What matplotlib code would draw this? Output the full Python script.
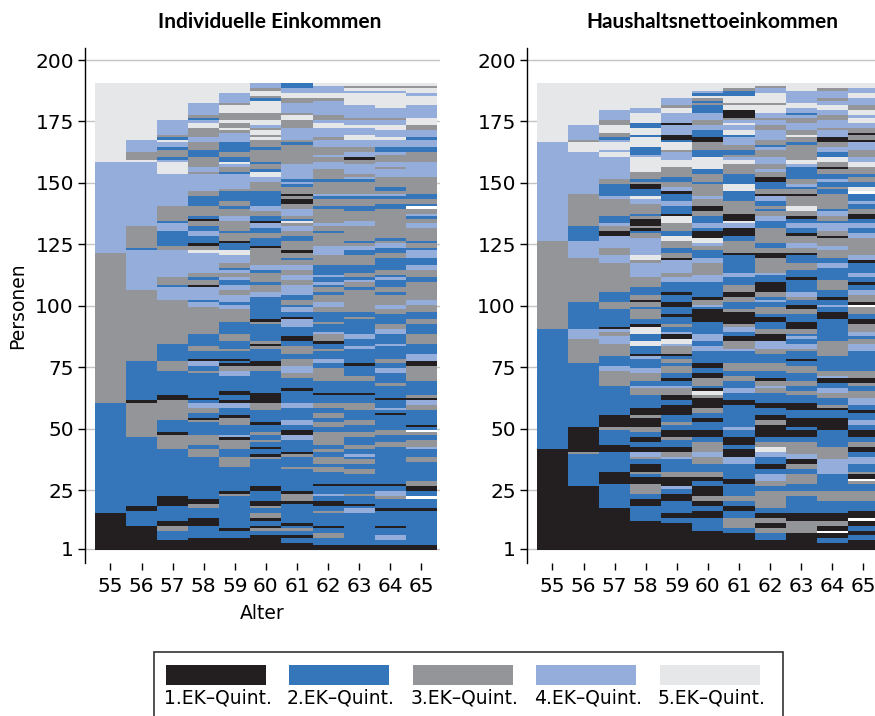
import matplotlib
matplotlib.use("Agg")
import matplotlib.pyplot as plt
from matplotlib.patches import Rectangle

ages = list(range(55, 66))
yticks = [1, 25, 50, 75, 100, 125, 150, 175, 200]
quint_labels = ["1.EK–Quint.", "2.EK–Quint.", "3.EK–Quint.", "4.EK–Quint.", "5.EK–Quint."]
quint_colors = {0: "#ffffff", 1: "#231f20", 2: "#3576bb", 3: "#939598",
                4: "#95addb", 5: "#e6e7e8"}

# one string per age (55..65); "state:last person" from bottom to top, 0 = fehlend
individuell = [
    "1:15 2:60 3:121 4:158 5:190",
    "1:10 2:16 1:18 2:46 3:60 1:61 2:77 3:106 4:122 2:123 3:132 4:158 5:159 3:162 4:167 5:190",
    "1:4 2:8 3:10 1:12 2:18 1:22 2:41 3:47 1:48 2:53 3:61 1:63 2:73 3:77 2:84 3:102 4:107 2:108 "
    "3:111 4:122 3:124 2:130 4:133 2:134 3:140 4:153 5:158 4:159 2:160 3:163 2:164 4:166 5:167 "
    "2:168 3:169 4:175 5:190",
    "1:5 2:10 1:13 2:17 3:19 1:21 2:38 3:41 2:43 3:47 2:52 3:53 1:54 2:56 3:58 4:60 2:61 1:62 "
    "2:72 3:73 2:75 4:77 1:78 2:81 3:83 2:88 3:99 4:101 2:102 4:107 1:108 3:110 2:111 3:113 "
    "4:121 5:122 3:124 1:125 2:128 4:130 2:132 3:134 1:135 2:136 3:140 2:144 3:146 4:153 3:154 "
    "4:156 3:160 2:163 3:166 4:168 3:172 5:174 4:175 2:176 3:177 4:182 5:190",
    "1:5 2:8 1:9 2:22 3:23 1:24 2:34 3:38 2:41 3:45 1:46 4:47 2:51 3:54 1:55 2:58 4:60 1:61 "
    "2:63 1:65 2:71 4:73 3:75 1:76 2:77 1:78 2:81 3:82 2:85 3:88 2:93 3:98 4:100 2:101 4:104 "
    "3:106 4:108 2:110 4:111 3:113 4:114 2:115 3:117 4:120 5:122 2:125 1:126 3:129 2:130 3:134 "
    "4:136 3:139 2:140 3:142 2:146 3:147 4:153 2:154 3:156 4:157 5:158 2:160 3:162 2:166 4:170 "
    "3:171 5:172 3:174 5:175 3:178 5:181 3:182 4:186 5:190",
    "1:6 2:8 3:9 1:10 2:12 1:13 3:15 2:17 3:18 1:20 2:24 1:26 2:37 3:38 1:39 2:41 1:42 2:44 "
    "3:45 2:47 3:48 2:51 1:52 2:57 3:60 1:64 2:73 3:75 1:77 2:82 3:83 1:84 3:85 2:92 3:93 1:94 "
    "2:103 4:105 3:108 2:109 3:113 2:114 4:116 3:123 1:124 2:127 3:129 2:131 4:133 1:134 2:136 "
    "3:138 4:140 2:146 3:150 4:152 5:154 2:155 3:157 2:158 3:163 2:164 3:167 5:168 3:169 5:171 "
    "3:172 4:173 5:175 3:178 5:183 2:184 3:185 5:187 3:188 4:190",
    "1:3 2:5 1:6 2:8 3:9 2:10 1:11 2:19 1:20 3:23 1:24 2:33 3:34 2:38 3:39 1:40 2:45 4:47 1:49 "
    "2:51 4:53 2:58 4:60 2:65 1:66 2:70 3:72 4:75 3:78 2:80 3:83 2:85 1:87 2:91 4:94 1:95 2:97 "
    "4:99 2:100 3:102 2:104 4:108 3:110 4:112 3:114 4:116 3:118 2:119 3:121 1:122 3:126 2:128 "
    "3:130 4:132 3:133 5:134 2:135 3:136 4:139 3:141 1:143 3:144 1:145 3:148 2:149 4:150 2:151 "
    "4:157 3:165 2:166 3:167 4:172 3:175 5:177 3:178 4:182 3:184 5:186 4:188 2:190",
    "1:2 2:5 3:7 2:9 1:10 2:15 3:16 2:18 1:20 2:22 4:23 2:26 1:27 2:32 3:34 2:35 3:38 2:40 3:41 "
    "2:43 3:48 2:50 3:52 2:54 3:56 2:58 3:60 2:63 1:64 2:69 3:74 2:76 4:78 2:81 3:82 2:84 1:85 "
    "3:88 4:89 2:92 3:93 2:97 3:99 4:101 3:104 2:105 3:107 2:108 4:109 2:111 4:112 2:116 3:120 "
    "4:124 3:129 2:130 3:132 4:133 3:139 2:140 3:143 2:144 4:145 3:150 2:151 3:155 4:158 3:160 "
    "4:161 3:164 4:167 3:168 4:172 5:174 4:175 3:177 4:183 3:184 5:186 4:189 5:190",
    "1:2 2:15 4:17 2:18 1:19 2:22 3:23 2:26 1:27 2:31 3:33 2:35 3:37 2:38 4:39 2:41 3:43 2:46 "
    "3:48 2:51 3:53 2:57 3:60 2:63 1:64 2:69 3:71 2:75 1:76 2:82 4:83 2:86 4:88 2:94 3:95 2:97 "
    "3:106 2:107 3:109 4:110 2:111 3:113 2:116 3:120 2:122 4:124 3:125 2:126 3:132 4:134 3:138 "
    "2:140 3:143 2:144 4:145 3:150 2:151 4:152 3:153 4:157 3:159 1:160 4:162 3:164 4:167 5:169 "
    "4:172 5:173 4:175 3:176 4:181 5:186 4:187 5:188 3:189 5:190",
    "1:2 2:4 4:6 2:9 1:10 2:16 1:17 2:21 3:22 4:24 2:26 1:27 2:42 3:44 2:47 3:49 2:55 1:56 2:57 "
    "4:58 2:61 1:62 2:67 3:68 2:72 4:74 2:76 3:78 2:83 4:84 2:88 4:90 3:92 2:96 3:98 4:100 3:104 "
    "2:105 3:107 2:110 4:111 2:112 3:114 2:119 3:121 2:123 4:125 3:126 2:127 3:139 2:141 3:143 "
    "2:144 4:145 3:146 2:148 3:152 4:155 3:156 4:158 3:161 4:162 2:164 4:167 5:168 4:171 5:173 "
    "4:175 3:176 4:180 5:186 4:187 5:188 3:189 5:190",
    "1:2 2:16 1:17 2:21 0:22 2:24 1:26 3:28 2:36 3:38 2:41 4:42 3:45 2:47 3:48 0:49 2:50 1:51 "
    "2:57 3:59 4:61 1:62 3:63 2:69 3:75 1:77 4:80 2:84 3:88 2:92 3:94 2:97 3:100 4:102 3:109 "
    "2:111 3:114 4:116 2:119 4:122 2:123 3:125 2:126 3:131 4:133 3:135 2:136 4:137 3:139 0:140 "
    "2:141 3:143 2:145 3:152 4:158 3:162 2:164 4:167 2:168 4:171 3:173 5:176 4:181 5:185 4:186 "
    "5:188 3:189 5:190",
]

haushalt = [
    "1:41 2:90 3:126 4:166 5:190",
    "1:26 2:39 3:40 1:50 2:76 3:86 4:90 2:101 3:119 4:126 2:132 3:145 4:162 5:166 3:167 4:173 5:190",
    "1:17 2:27 1:32 2:40 1:43 2:49 3:50 1:55 2:67 3:73 4:75 2:79 3:84 4:87 3:89 4:90 1:91 2:98 "
    "3:101 2:105 3:117 4:120 3:123 4:128 1:130 3:132 4:133 2:136 3:143 4:144 2:149 3:151 4:160 "
    "5:162 4:163 5:166 4:167 2:168 3:170 5:173 3:175 4:179 5:190",
    "1:12 2:18 1:21 2:23 3:27 1:30 2:31 3:32 1:35 2:37 3:38 4:40 1:42 2:44 1:46 2:48 3:50 1:54 "
    "3:55 1:58 2:63 3:66 4:67 2:69 3:72 4:74 2:78 4:79 1:80 2:83 5:85 2:88 5:91 1:92 2:94 3:98 "
    "2:99 3:101 1:102 3:104 2:107 3:111 4:117 3:118 5:120 4:127 3:129 2:130 1:131 3:132 1:135 "
    "3:136 2:137 3:141 4:143 5:144 2:147 1:149 3:150 2:151 3:154 5:160 4:161 2:164 5:168 2:169 "
    "5:172 2:174 5:178 4:180 5:190",
    "1:11 2:13 1:15 2:20 1:23 2:25 4:26 1:30 3:32 2:37 4:38 3:40 1:42 2:45 3:46 1:49 2:51 3:52 "
    "2:55 1:59 2:61 1:63 3:66 4:67 2:69 1:70 2:72 3:75 2:76 3:78 2:79 1:80 3:83 4:84 5:86 1:88 "
    "4:89 2:91 3:92 2:95 1:96 2:99 1:101 2:104 1:105 2:109 4:111 3:113 4:118 1:119 3:121 2:123 "
    "3:126 5:128 2:130 3:133 5:136 1:137 2:140 4:142 2:145 1:146 4:148 3:150 2:152 3:156 5:159 "
    "4:162 3:163 5:166 2:167 1:169 4:173 1:174 4:178 5:180 3:181 4:184 5:190",
    "1:8 2:13 1:16 2:18 1:20 3:22 1:26 2:28 1:30 3:32 2:35 3:38 4:40 3:44 2:46 1:49 2:52 1:54 "
    "2:56 3:58 1:62 3:63 5:65 1:66 2:67 3:70 1:72 2:74 1:76 2:81 4:83 2:85 4:88 2:93 1:98 2:99 "
    "4:100 3:102 1:103 2:109 4:112 3:117 4:119 2:122 3:124 4:125 5:127 1:130 2:131 4:133 2:136 "
    "3:138 1:140 3:143 4:144 3:149 2:150 3:153 2:155 5:160 2:163 3:166 1:168 2:171 4:173 3:175 "
    "4:178 2:181 3:182 2:183 3:184 5:185 2:186 4:187 5:190",
    "1:7 2:9 3:13 2:16 1:18 2:20 3:22 2:27 1:29 2:35 4:38 1:41 2:43 1:46 2:49 4:50 2:59 1:61 "
    "2:64 4:66 2:69 3:71 2:73 3:76 2:81 4:82 3:85 1:87 2:89 4:91 3:92 1:97 3:98 2:101 3:103 "
    "1:105 3:108 2:111 4:113 2:120 1:121 3:126 2:128 1:131 4:133 5:134 1:137 3:142 2:146 5:149 "
    "2:153 3:157 5:159 4:160 3:161 2:163 3:165 4:168 2:169 5:171 4:173 5:174 4:175 3:176 1:179 "
    "5:181 3:182 5:185 2:187 3:188 5:190",
    "1:4 2:7 3:9 1:11 3:13 1:15 2:17 3:24 2:26 3:28 4:31 2:33 1:35 2:38 4:40 5:42 3:44 2:46 "
    "1:51 3:53 1:55 2:58 1:60 2:64 3:66 4:67 3:69 1:70 2:73 3:76 2:80 3:82 4:85 1:88 3:90 2:93 "
    "1:95 2:96 3:99 2:101 4:102 2:103 3:105 1:109 2:112 4:113 3:119 1:121 3:123 2:125 3:131 "
    "2:134 4:136 3:138 2:139 3:140 2:142 4:144 1:145 3:147 2:150 1:152 3:154 4:155 3:157 4:160 "
    "3:163 4:164 2:165 3:167 4:171 3:173 4:175 3:176 4:178 5:181 3:182 5:186 4:188 3:189 5:190",
    "1:7 3:12 1:15 2:22 3:24 2:27 3:31 2:33 3:35 1:37 4:39 3:44 2:46 1:49 2:50 1:54 2:57 1:60 "
    "2:63 3:65 2:67 3:69 2:72 3:75 2:77 1:78 2:81 3:82 4:84 2:86 4:87 2:88 3:90 1:93 2:96 3:98 "
    "1:100 2:102 3:103 4:105 2:110 1:111 2:114 3:117 2:120 1:121 3:123 4:125 3:128 1:129 2:131 "
    "4:133 2:135 1:136 3:138 5:140 3:144 1:145 3:147 2:148 4:149 3:151 2:156 4:157 5:159 3:165 "
    "2:166 3:168 5:169 3:171 4:174 3:176 4:177 2:178 4:180 5:182 4:187 5:190",
    "1:3 2:5 1:7 0:8 1:10 3:12 1:15 2:20 3:24 2:31 4:37 3:42 2:49 1:54 2:57 1:58 3:59 2:62 3:64 "
    "4:66 2:68 1:70 4:71 3:73 2:79 3:85 2:94 1:97 2:99 4:100 2:102 1:103 2:106 3:110 2:115 4:117 "
    "2:119 3:122 4:124 3:127 1:128 3:130 4:133 2:134 3:136 4:138 2:139 3:145 2:147 3:148 2:150 "
    "4:151 2:153 3:155 1:156 3:158 5:160 2:162 4:164 3:166 1:168 4:171 3:172 4:175 3:177 4:179 "
    "5:181 4:183 3:184 4:187 3:188 5:190",
    "1:4 2:6 1:8 2:10 1:12 0:13 1:16 2:20 3:24 2:27 3:28 0:29 1:31 3:32 2:35 4:38 2:40 1:42 3:44 "
    "2:46 1:49 2:51 4:53 2:56 1:57 2:59 4:62 3:65 2:67 3:68 1:70 3:73 2:81 4:84 3:86 2:87 4:89 "
    "3:92 1:94 2:96 3:99 0:100 1:101 3:104 4:106 2:108 1:109 2:111 4:113 2:117 1:118 4:120 3:127 "
    "4:129 2:131 4:133 2:135 1:137 3:139 2:141 4:142 2:145 0:146 5:148 2:150 3:152 2:153 3:156 "
    "5:158 4:160 3:163 4:166 1:167 3:169 1:170 3:172 4:174 5:176 4:177 5:179 3:181 4:184 5:186 "
    "4:188 5:190",
]


def runs(col):
    out = []
    start = 1
    for tok in col.split():
        state, end = tok.split(":")
        end = int(end)
        if end >= start:
            out.append((int(state), start, end))
        start = end + 1
    return out


def draw(ax, data, title_x, title):
    xs, heights, bottoms, colors = [], [], [], []
    for age, col in zip(ages, data):
        for state, a, b in runs(col):
            xs.append(age)
            heights.append(b - a + 1)
            bottoms.append(a - 0.5)
            colors.append(quint_colors[state])
    ax.set_axisbelow(True)
    ax.yaxis.grid(True, color="#c4c4c4", linewidth=1.0)
    ax.bar(xs, heights, bottom=bottoms, width=1.0, color=colors,
           linewidth=0, antialiased=False)
    ax.set_xlim(54.18, 65.6)
    ax.set_ylim(-4.7, 204.9)
    ax.set_xticks(ages)
    ax.set_yticks(yticks)
    for s in ["top", "right", "bottom"]:
        ax.spines[s].set_visible(False)
    ax.spines["left"].set_linewidth(1.0)
    ax.tick_params(axis="both", length=5, width=1, labelsize=14.5, pad=3)
    ax.tick_params(axis="x", pad=5)
    fig.text(title_x, 1 - 22 / 716, title, ha="center", va="center",
             fontsize=15, fontweight="bold", family="Lato")


fig = plt.figure(figsize=(8.75, 7.16), dpi=100)
ax1 = fig.add_axes([85 / 875, 1 - 563 / 716, 355 / 875, 515 / 716])
ax2 = fig.add_axes([527 / 875, 1 - 563 / 716, 355 / 875, 515 / 716])
draw(ax1, individuell, 270 / 875, "Individuelle Einkommen")
draw(ax2, haushalt, 712 / 875, "Haushaltsnettoeinkommen")
ax1.set_ylabel("Personen", fontsize=13.5, labelpad=6)
ax1.set_xlabel("Alter", fontsize=13.5, labelpad=6)

# legend: swatch above label, framed box
fig.add_artist(Rectangle((154 / 875, 1 - 722 / 716), 629 / 875, 70 / 716,
                         transform=fig.transFigure, fill=False,
                         edgecolor="#333333", linewidth=1.2))
for i, lab in enumerate(quint_labels):
    x0 = 165.5 + i * 123.5
    fig.add_artist(Rectangle((x0 / 875, 1 - 685 / 716), 100 / 875, 20 / 716,
                             transform=fig.transFigure,
                             facecolor=quint_colors[i + 1], edgecolor="none"))
    fig.text((x0 + 52) / 875, 1 - 698 / 716, lab, ha="center", va="center",
             fontsize=13.5)

fig.savefig("out.png", dpi=100)
